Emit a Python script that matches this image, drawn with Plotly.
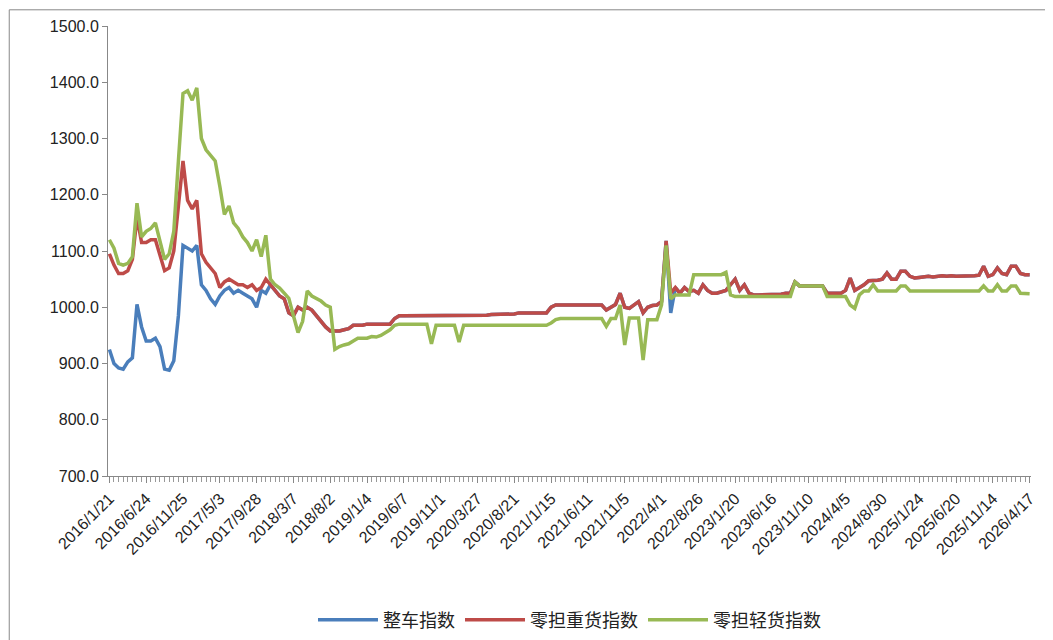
import plotly.graph_objects as go

tick_labels = ["2016/1/21","2016/6/24","2016/11/25","2017/5/3","2017/9/28","2018/3/7","2018/8/2",
               "2019/1/4","2019/6/7","2019/11/1","2020/3/27","2020/8/21","2021/1/15","2021/6/11",
               "2021/11/5","2022/4/1","2022/8/26","2023/1/20","2023/6/16","2023/11/10","2024/4/5",
               "2024/8/30","2025/1/24","2025/6/20","2025/11/14","2026/4/17"]

heavy = [1095,1075,1060,1060,1065,1085,1160,1115,1115,1120,
         1120,1090,1065,1070,1100,1180,1260,1190,1175,1190,
         1095,1080,1070,1060,1035,1045,1050,1045,1040,1040,
         1035,1040,1030,1035,1050,1040,1030,1020,1015,990,
         985,1000,995,1000,995,985,975,965,958,958,
         958,960,962,968,968,968,970,970,970,970,
         970,970,980,985,985,985,985,985,985,985,
         985,985,985,985,985,985,985,985,986,986,
         986,986,986,987,987,987,988,988,988,990,
         990,990,990,990,990,990,1000,1004,1004,1004,
         1004,1004,1004,1004,1004,1004,1004,1004,995,1000,
         1005,1025,1000,998,1005,1010,990,1000,1003,1004,
         1010,1118,1025,1035,1025,1035,1028,1030,1025,1040,
         1030,1025,1025,1027,1030,1040,1050,1030,1040,1025,
         1022,1022,1022,1022,1022,1022,1023,1025,1025,1045,
         1038,1038,1038,1038,1038,1038,1025,1025,1025,1025,
         1030,1052,1030,1035,1040,1047,1047,1048,1050,1061,
         1050,1050,1064,1064,1055,1052,1053,1054,1055,1054,
         1055,1056,1055,1056,1055,1055,1056,1055,1056,1057,
         1073,1055,1058,1070,1060,1058,1073,1073,1060,1058,
         1058]

light = [1120,1105,1078,1075,1078,1090,1185,1125,1135,1140,
         1150,1120,1085,1095,1135,1260,1380,1385,1368,1390,
         1300,1280,1270,1260,1215,1165,1180,1150,1140,1125,
         1115,1100,1120,1090,1128,1050,1040,1034,1025,1016,
         985,955,975,1029,1020,1016,1011,1004,1000,925,
         930,933,935,940,945,945,945,948,947,950,
         955,960,968,970,970,970,970,970,970,970,
         935,968,968,968,968,968,938,968,968,968,
         968,968,968,968,968,968,968,968,968,968,
         968,968,968,968,968,968,972,978,980,980,
         980,980,980,980,980,980,980,980,966,980,
         980,1004,933,981,981,981,906,978,978,978,
         1004,1110,1015,1022,1022,1022,1022,1058,1058,1058,
         1058,1058,1058,1058,1062,1022,1019,1019,1019,1019,
         1019,1019,1019,1019,1019,1019,1019,1019,1019,1045,
         1038,1038,1038,1038,1038,1038,1019,1019,1019,1019,
         1019,1004,998,1022,1029,1029,1040,1029,1029,1029,
         1029,1029,1038,1038,1029,1029,1029,1029,1029,1029,
         1029,1029,1029,1029,1029,1029,1029,1029,1029,1029,
         1038,1029,1029,1040,1029,1029,1038,1038,1025,1025,
         1024]

truck_early = [925,900,892,890,903,910,1005,965,940,940,
               945,930,890,888,905,985,1110,1105,1100,1110,
               1040,1030,1015,1005,1020,1030,1035,1025,1030,1025,
               1020,1015,1000,1030,1025,1040]
truck = truck_early + heavy[len(truck_early):]
truck[122] = 990

x = list(range(len(heavy)))
step = 8
tickvals = [i * step for i in range(len(tick_labels))]

fig = go.Figure()
fig.add_trace(go.Scatter(x=x, y=truck, name="整车指数", mode="lines",
                         line=dict(color="#4a7ebb", width=3.5)))
fig.add_trace(go.Scatter(x=x, y=heavy, name="零担重货指数", mode="lines",
                         line=dict(color="#be4b48", width=3.5)))
fig.add_trace(go.Scatter(x=x, y=light, name="零担轻货指数", mode="lines",
                         line=dict(color="#98b954", width=3.5)))

fig.update_layout(
    width=1053, height=640,
    margin=dict(l=100, r=30, t=18, b=172, autoexpand=False),
    plot_bgcolor="white", paper_bgcolor="white",
    font=dict(family="Noto Sans CJK SC, Liberation Sans, sans-serif", size=15, color="#222"),
    showlegend=True,
    legend=dict(orientation="h", x=0.5, xanchor="center", y=-0.32, yanchor="middle",
                font=dict(size=18), itemwidth=60, tracegroupgap=40),
    shapes=[dict(type="rect", xref="paper", yref="paper", x0=-0.107, x1=1.031, y0=-0.378, y1=1.036,
                 line=dict(color="#888", width=1))],
)
fig.update_xaxes(range=[-0.3, len(heavy) - 0.7], tickvals=tickvals, ticktext=tick_labels,
                 tickangle=-45, showgrid=False, showline=True, linecolor="#888", automargin=False,
                 ticks="outside", ticklen=6, tickcolor="#888", zeroline=False,
                 tickfont=dict(size=16, family="Liberation Sans, sans-serif"),
                 minor=dict(dtick=1, tick0=0, ticks="outside", ticklen=5, tickcolor="#999"))
fig.update_yaxes(range=[700, 1500], dtick=100, tickformat=".1f", showgrid=False, automargin=False,
                 showline=True, linecolor="#888", ticks="outside", ticklen=5, tickcolor="#888",
                 zeroline=False, tickfont=dict(size=16, family="Liberation Sans, sans-serif"))

fig.write_html("out.html")
